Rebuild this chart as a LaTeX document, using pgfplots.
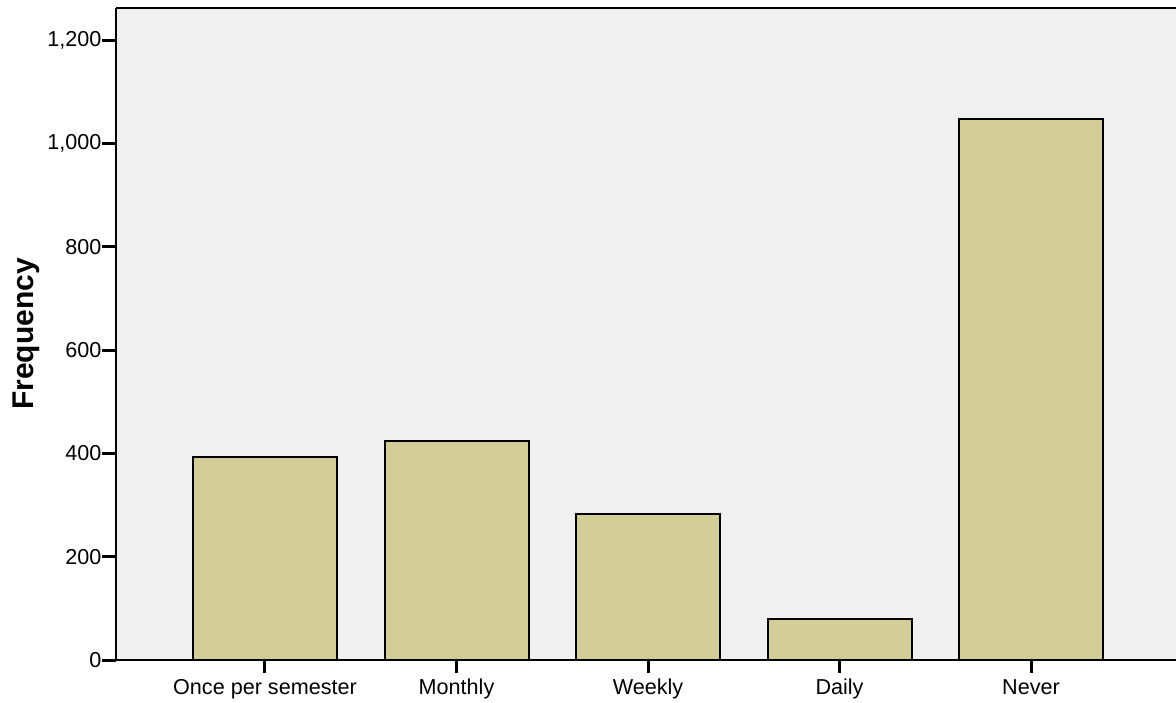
\documentclass[border=0pt]{standalone}
\usepackage{fontspec}
\setmainfont{Liberation Sans}
\usepackage{pgfplots}
\pgfplotsset{compat=1.18}
\definecolor{barfill}{HTML}{D3CE97}
\definecolor{bgc}{HTML}{F0F0F0}
\begin{document}
\begin{tikzpicture}
\useasboundingbox (-58pt,-21pt) rectangle (530pt,330pt);
\begin{axis}[
  scale only axis,
  width=530pt, height=326pt,
  xmin=-0.778, xmax=4.757,
  ymin=0, ymax=1262,
  axis background/.style={fill=bgc},
  axis x line*=bottom,
  axis y line*=left,
  axis line style={line width=1pt, black, -},
  xtick={0,1,2,3,4},
  xticklabels={Once per semester, Monthly, Weekly, Daily, Never},
  ytick={0,200,400,600,800,1000,1200},
  /pgf/number format/1000 sep={,},
  /pgf/number format/assume math mode=true,
  tick style={line width=1.5pt, black},
  tick align=outside,
  ytick style={/pgfplots/major tick length=7pt},
  xtick style={/pgfplots/major tick length=6.5pt},
  ticklabel style={font=\fontsize{10.8}{13}\selectfont},
  xticklabel style={yshift=-1pt, text height=1.6ex, text depth=0.4ex},
  yticklabel style={xshift=0.5pt},
  ylabel={\textbf{Frequency}},
  every axis y label/.style={at={(axis description cs:-0.085,0.5)}, rotate=90, anchor=center, font=\fontsize{15}{18}\selectfont},
  clip=false,
]
\draw[line width=1pt] (rel axis cs:0,1) -- (rel axis cs:1,1);
\addplot[ybar, bar width=72pt, fill=barfill, draw=black, line width=1pt]
  coordinates {(0,392) (1,424) (2,283) (3,79) (4,1048)};
\end{axis}
\end{tikzpicture}
\end{document}
